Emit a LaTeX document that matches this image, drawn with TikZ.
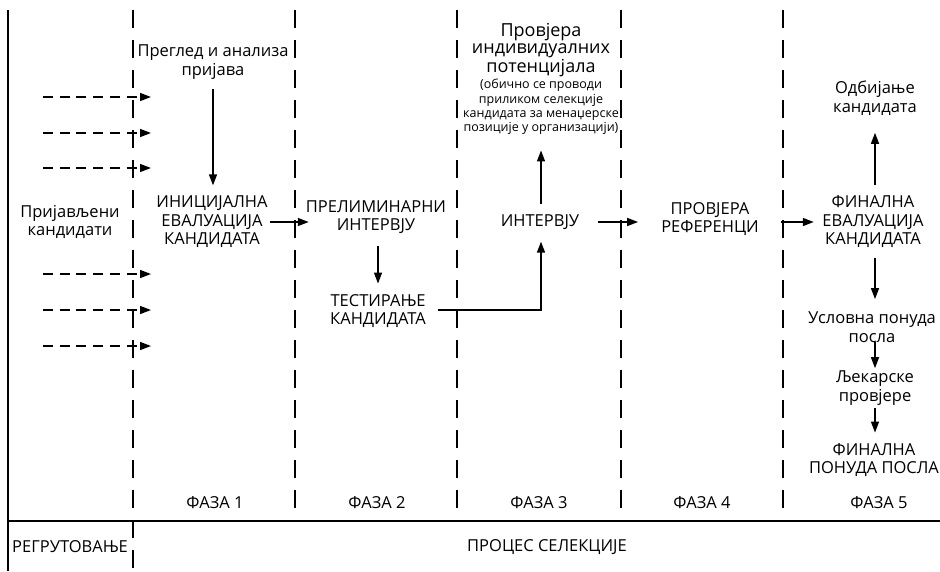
\documentclass[tikz,border=0pt]{standalone}
\usepackage{fontspec}
\setmainfont{Open Sans}
\usetikzlibrary{arrows.meta}
\begin{document}
\begin{tikzpicture}[x=1pt,y=-1pt,
    txt/.style={align=center,inner sep=0pt,font=\fontsize{16.5}{18.5}\selectfont},
    big/.style={align=center,inner sep=0pt,font=\fontsize{18}{17.5}\selectfont},
    small/.style={align=center,inner sep=0pt,font=\fontsize{12.5}{14.3}\selectfont},
    arr/.style={line width=1.5pt,-{Triangle[length=11pt,width=8pt]}},
    inarr/.style={line width=1.5pt,dash pattern=on 10pt off 6.7pt,-{Triangle[length=11pt,width=8pt]}},
    sep/.style={line width=1.8pt,dash pattern=on 18pt off 12pt}]
  \useasboundingbox (0,0) rectangle (940,571);
  \draw[line width=1.8pt] (8,10) -- (8,571);
  \draw[line width=1.8pt] (8,521) -- (940,521);
  \draw[sep] (133,10) -- (133,571);
  \foreach \x in {295,457,621,783}
    \draw[sep] (\x,10) -- (\x,508);
  \node[txt] (prijavljeni) at (70,222) {Пријављени\\кандидати};
  \node[txt] (pregled) at (213,62) {Преглед и анализа\\пријава};
  \node[txt] (inicijalna) at (212,222) {ИНИЦИЈАЛНА\\ЕВАЛУАЦИЈА\\КАНДИДАТА};
  \node[txt] (preliminarni) at (376,217) {ПРЕЛИМИНАРНИ\\ИНТЕРВЈУ};
  \node[txt] (testiranje) at (378,311) {ТЕСТИРАЊЕ\\КАНДИДАТА};
  \node[txt] (intervju) at (540,222) {ИНТЕРВЈУ};
  \node[big] (potencijali) at (541,50) {Провјера\\индивидуалних\\потенцијала};
  \node[small] (napomena) at (541,107) {(обично се проводи\\приликом селекције\\кандидата за менаџерске\\позиције у организацији)};
  \node[txt] (reference) at (710,219) {ПРОВЈЕРА\\РЕФЕРЕНЦИ};
  \node[txt] (finalna) at (873,222) {ФИНАЛНА\\ЕВАЛУАЦИЈА\\КАНДИДАТА};
  \node[txt] (odbijanje) at (875,98) {Одбијање\\кандидата};
  \node[txt] (uslovna) at (872,327) {Условна понуда\\посла};
  \node[txt] (ljekarske) at (875,388) {Љекарске\\провјере};
  \node[txt] (ponuda) at (874,460) {ФИНАЛНА\\ПОНУДА ПОСЛА};
  \node[txt] (faza1) at (215,503) {ФАЗА 1};
  \node[txt] (faza2) at (377,503) {ФАЗА 2};
  \node[txt] (faza3) at (539,503) {ФАЗА 3};
  \node[txt] (faza4) at (702,503) {ФАЗА 4};
  \node[txt] (faza5) at (879,503) {ФАЗА 5};
  \node[txt] (regrutovanje) at (70,547) {РЕГРУТОВАЊЕ};
  \node[txt] (selekcija) at (547,547) {ПРОЦЕС СЕЛЕКЦИЈЕ};
  \foreach \y [count=\i] in {97,133,168,274,310,346} {
    \coordinate (ulaz\i) at (43,\y);
    \coordinate (izlaz\i) at (151,\y);
    \draw[inarr] (ulaz\i) -- (izlaz\i);
  }
  \coordinate (ugao) at (541,310);
  \draw[arr] ([yshift=-9.5pt]pregled.south) -- ([yshift=10.5pt]inicijalna.north -| pregled.south);
  \draw[arr] ([xshift=2.5pt]inicijalna.east) -- ([xshift=3pt]preliminarni.west |- inicijalna.east);
  \draw[arr] ([yshift=-12.5pt]preliminarni.south -| testiranje.north) -- ([yshift=10.5pt]testiranje.north);
  \draw[arr] ([xshift=12pt]testiranje.east |- ugao) -- (ugao) -- ([yshift=-12pt]intervju.south -| ugao);
  \draw[arr] ([yshift=10pt]intervju.north -| ugao) -- ([yshift=-15.5pt]napomena.south -| ugao);
  \draw[arr] ([xshift=19pt]intervju.east) -- ([xshift=-23pt]reference.west |- intervju.east);
  \draw[arr] ([xshift=22pt]reference.east |- finalna.west) -- ([xshift=-8.5pt]finalna.west);
  \draw[arr] ([yshift=10.5pt]finalna.north -| odbijanje.south) -- ([yshift=-17.5pt]odbijanje.south);
  \draw[arr] ([yshift=-9.5pt]finalna.south -| odbijanje.south) -- ([yshift=12.5pt]uslovna.north -| odbijanje.south);
  \draw[arr] (uslovna.south -| ljekarske.north) -- ([yshift=2.5pt]ljekarske.north);
  \draw[arr] ([yshift=-2.5pt]ljekarske.south) -- ([yshift=10.5pt]ponuda.north -| ljekarske.south);
\end{tikzpicture}
\end{document}
